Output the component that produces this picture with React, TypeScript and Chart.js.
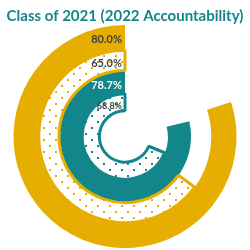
import React, { useEffect, useRef } from "react";
import { Chart, registerables } from "chart.js";

Chart.register(...registerables);

// ---- data ----
const TITLE = "Class of 2021 (2022 Accountability)";
const RING_NAMES = ["Ring 1", "Ring 2", "Ring 3", "Ring 4"];
const VALUES = [80.0, 65.0, 78.7, 68.8];

// ---- styles ----
const GOLD = "#E6AE00";
const TEAL = "#13868B";
const RING_COLORS = [GOLD, GOLD, TEAL, TEAL];
const RING_DOTTED = [false, true, false, true];
const RING_WEIGHTS = [25, 20, 23, 17];
const LABEL_COLORS = ["#3F3F3F", "#3F3F3F", "#FFFFFF", "#3F3F3F"];
const LABEL_SIZES = [11, 11, 11, 9];
const LABEL_DY = [2, 3, 3, 4];

function makeDots(color: string): CanvasPattern | string {
  const c = document.createElement("canvas");
  c.width = 12;
  c.height = 12;
  const g = c.getContext("2d");
  if (!g) return "#fff";
  g.fillStyle = "#ffffff";
  g.fillRect(0, 0, 12, 12);
  g.fillStyle = color;
  g.fillRect(1, 1, 2, 2);
  g.fillRect(7, 7, 2, 2);
  return g.createPattern(c, "repeat") || "#fff";
}

const labelPlugin = {
  id: "ringLabels",
  afterDatasetsDraw(chart: any) {
    const ctx = chart.ctx;
    chart.data.datasets.forEach((_ds: any, i: number) => {
      const meta = chart.getDatasetMeta(i);
      const arc = meta.data[1];
      if (!arc) return;
      const mid = (arc.innerRadius + arc.outerRadius) / 2;
      ctx.save();
      ctx.font = `bold ${LABEL_SIZES[i]}px Lato`;
      ctx.fillStyle = LABEL_COLORS[i];
      ctx.textAlign = "right";
      ctx.textBaseline = "middle";
      ctx.fillText(`${VALUES[i].toFixed(1)}%`, arc.x - 3, arc.y - mid + LABEL_DY[i]);
      ctx.restore();
    });
  },
};

export default function App() {
  const ref = useRef<HTMLCanvasElement | null>(null);

  useEffect(() => {
    if (!ref.current) return;
    const datasets = VALUES.map((v, i) => {
      const fill = RING_DOTTED[i] ? makeDots(RING_COLORS[i]) : RING_COLORS[i];
      return {
        label: RING_NAMES[i],
        data: [100 - v, v],
        backgroundColor: ["rgba(0,0,0,0)", fill],
        borderColor: ["rgba(0,0,0,0)", RING_COLORS[i]],
        borderWidth: RING_DOTTED[i] ? [0, 3] : [0, 0],
        weight: RING_WEIGHTS[i],
      };
    });
    const chart = new Chart(ref.current, {
      type: "doughnut",
      data: { labels: ["rest", "value"], datasets: datasets as any },
      options: {
        responsive: false,
        animation: false,
        events: [],
        cutout: "23%",
        layout: { padding: { top: 0, bottom: 2, left: 0, right: 0 } },
        plugins: {
          legend: { display: false },
          tooltip: { enabled: false },
          title: {
            display: true,
            text: TITLE,
            color: TEAL,
            font: { family: "Lato", size: 15, weight: "bold" },
            padding: { top: 7, bottom: 0 },
          },
        },
      },
      plugins: [labelPlugin],
    });
    return () => chart.destroy();
  }, []);

  return (
    <div style={{ position: "absolute", left: 0, top: 0, width: 250, height: 250, background: "#fff" }}>
      <canvas ref={ref} width={250} height={250} />
    </div>
  );
}
